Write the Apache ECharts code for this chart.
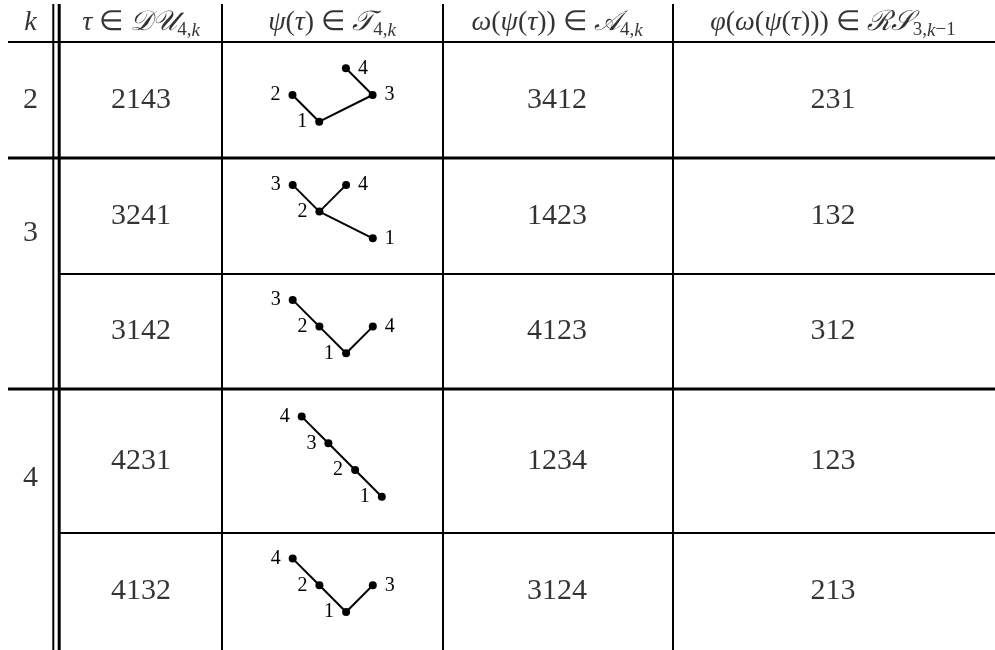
<!DOCTYPE html>
<html>
<head>
<meta charset="utf-8">
<title>table</title>
<script src="https://cdn.jsdelivr.net/npm/echarts@6/dist/echarts.min.js"></script>
<style>
  html, body { margin: 0; padding: 0; background: #fff; }
  #main { width: 995px; height: 650px; }
</style>
</head>
<body>
<div id="main"></div>
<script>
// table content
var headers = [
    '{m|k}',
    '{m|τ}{r| ∈ }{c|𝒟𝒰}{sub|4,}{subi|k}',
    '{m|ψ}{r|(}{m|τ}{r|) ∈ }{c|𝒯}{sub|4,}{subi|k}',
    '{m|ω}{r|(}{m|ψ}{r|(}{m|τ}{r|)) ∈ }{c|𝒜}{sub|4,}{subi|k}',
    '{m|φ}{r|(}{m|ω}{r|(}{m|ψ}{r|(}{m|τ}{r|))) ∈ }{c|ℛ𝒮}{sub|3,}{subi|k}{sub|−1}'
];
var kValues = ['2', '3', '4'];
var tauValues = ['2143', '3241', '3142', '4231', '4132'];
var omegaValues = ['3412', '1423', '4123', '1234', '3124'];
var phiValues = ['231', '132', '312', '123', '213'];

// trees psi(tau): nodes left to right, their level, label side, edges
var treeOrder = [[2, 1, 4, 3], [3, 2, 4, 1], [3, 2, 1, 4], [4, 3, 2, 1], [4, 2, 1, 3]];
var treeLevel = [[1, 0, 2, 1], [2, 1, 2, 0], [2, 1, 0, 1], [3, 2, 1, 0], [2, 1, 0, 1]];
var treeSide = [
    ['left', 'left', 'right', 'right'],
    ['left', 'left', 'right', 'right'],
    ['left', 'left', 'left', 'right'],
    ['left', 'left', 'left', 'left'],
    ['left', 'left', 'left', 'right']
];
var treeEdges = [
    [[2, 1], [1, 3], [3, 4]],
    [[3, 2], [2, 4], [2, 1]],
    [[3, 2], [2, 1], [1, 4]],
    [[4, 3], [3, 2], [2, 1]],
    [[4, 2], [2, 1], [1, 3]]
];

// layout (pixels)
var W = 995, H = 650;
var colCenter = [30.5, 141, 332, 557, 833];
var colLines = [222, 443, 673];
var rowEdges = [42, 158, 274, 389, 533, 650];
var kLabelY = [100, 233, 478];
var treeX0 = [292.5, 292.7, 292.7, 301.7, 292.7];
var treeY0 = [121.7, 238.3, 353.3, 496.7, 612];
var U = 26.7;
var FONT = "'Liberation Serif', 'Times New Roman', serif";

var myChart = echarts.init(document.getElementById('main'));

var grids = [{left: 0, top: 0, width: W, height: H}];
var xAxes = [{type: 'value', min: 0, max: W, show: false, gridIndex: 0}];
var yAxes = [{type: 'value', min: 0, max: H, inverse: true, show: false, gridIndex: 0}];

var series = [];

// header texts
series.push({
    type: 'scatter', xAxisIndex: 0, yAxisIndex: 0, symbolSize: 0, silent: true,
    data: headers.map(function (h, i) { return {value: [colCenter[i], 23], name: h}; }),
    label: {
        show: true, position: 'inside', color: '#000',
        formatter: function (p) { return p.name; },
        rich: {
            m: {fontFamily: FONT, fontSize: 28, fontStyle: 'italic', lineHeight: 34, color: '#000'},
            r: {fontFamily: FONT, fontSize: 28, lineHeight: 34, color: '#000'},
            c: {fontFamily: FONT, fontSize: 28, fontStyle: 'italic', lineHeight: 34, color: '#000'},
            sub: {fontFamily: FONT, fontSize: 19, lineHeight: 12, verticalAlign: 'bottom', color: '#000'},
            subi: {fontFamily: FONT, fontSize: 19, fontStyle: 'italic', lineHeight: 12, verticalAlign: 'bottom', color: '#000'}
        }
    }
});

// body cell texts
var cells = [];
kValues.forEach(function (k, i) { cells.push({value: [colCenter[0], kLabelY[i]], name: k}); });
for (var r = 0; r < tauValues.length; r++) {
    var cy = (rowEdges[r] + rowEdges[r + 1]) / 2;
    cells.push({value: [colCenter[1], cy], name: tauValues[r]});
    cells.push({value: [colCenter[3], cy], name: omegaValues[r]});
    cells.push({value: [colCenter[4], cy], name: phiValues[r]});
}
series.push({
    type: 'scatter', xAxisIndex: 0, yAxisIndex: 0, symbolSize: 0, silent: true,
    data: cells,
    label: {
        show: true, position: 'inside', color: '#000',
        fontFamily: FONT, fontSize: 30,
        formatter: function (p) { return p.name; }
    }
});

// trees, one small grid each
treeOrder.forEach(function (order, t) {
    var gi = t + 1;
    grids.push({left: treeX0[t] - U, top: treeY0[t] - 4 * U, width: 5 * U, height: 5 * U});
    xAxes.push({type: 'value', min: -1, max: 4, show: false, gridIndex: gi});
    yAxes.push({type: 'value', min: -1, max: 4, show: false, gridIndex: gi});
    var nodes = order.map(function (n, s) {
        return {
            name: String(n),
            value: [s, treeLevel[t][s]],
            label: {position: treeSide[t][s]}
        };
    });
    var links = treeEdges[t].map(function (e) {
        return {source: String(e[0]), target: String(e[1])};
    });
    series.push({
        type: 'graph',
        coordinateSystem: 'cartesian2d',
        xAxisIndex: gi, yAxisIndex: gi,
        silent: true,
        symbol: 'circle',
        symbolSize: 8,
        itemStyle: {color: '#000'},
        lineStyle: {color: '#000', width: 2, opacity: 1, curveness: 0},
        label: {show: true, color: '#000', fontFamily: FONT, fontSize: 20, distance: 8},
        data: nodes,
        links: links,
        z: 3
    });
});

// table rules
var rules = [];
function hline(y, x1, w) {
    rules.push({type: 'line', shape: {x1: x1, y1: y, x2: W, y2: y}, style: {stroke: '#000', lineWidth: w}, silent: true});
}
function vline(x, w) {
    rules.push({type: 'line', shape: {x1: x, y1: 4, x2: x, y2: H}, style: {stroke: '#000', lineWidth: w}, silent: true});
}
hline(rowEdges[0], 8, 2);
hline(rowEdges[1], 8, 3);
hline(rowEdges[2], 59, 2);
hline(rowEdges[3], 8, 3);
hline(rowEdges[4], 59, 2);
vline(53.3, 2);
vline(59.2, 3);
colLines.forEach(function (x) { vline(x, 2); });

myChart.setOption({
    backgroundColor: '#fff',
    animation: false,
    grid: grids,
    xAxis: xAxes,
    yAxis: yAxes,
    series: series,
    graphic: rules
});
</script>
</body>
</html>
